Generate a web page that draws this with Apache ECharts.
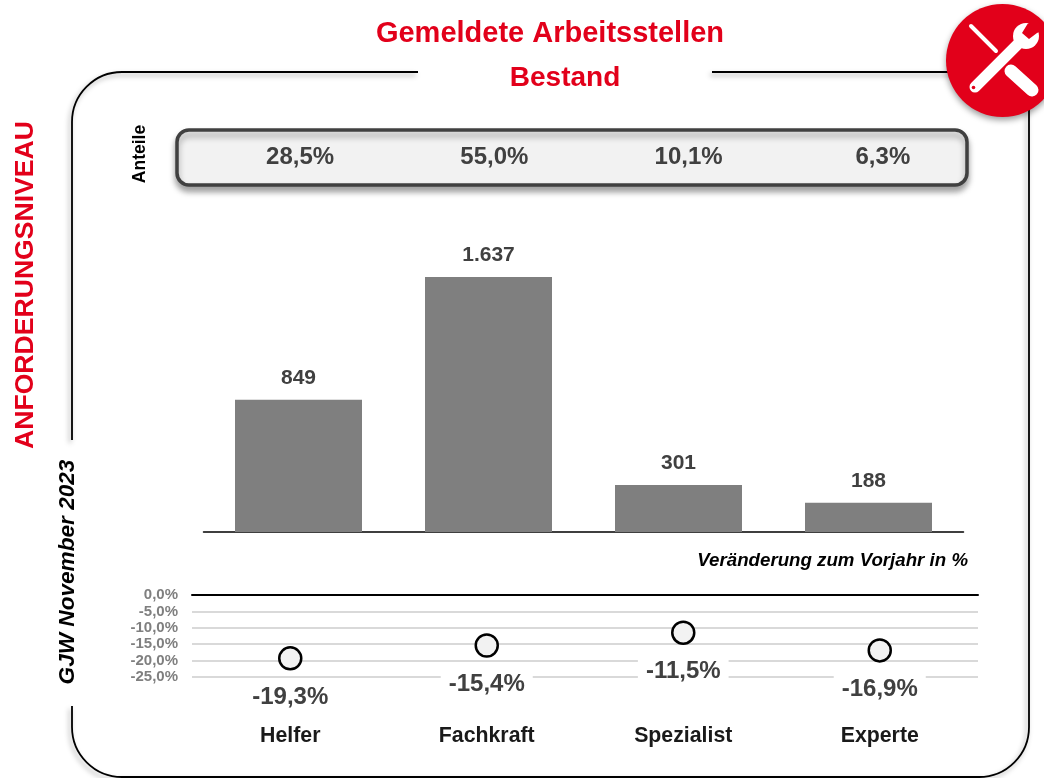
<!DOCTYPE html>
<html><head><meta charset="utf-8">
<style>html,body{margin:0;padding:0;background:#fff}#c{width:1044px;height:778px}</style>
<script src="https://cdn.jsdelivr.net/npm/echarts@6/dist/echarts.min.js"></script>
</head><body><div id="c"></div>
<script>
const categories = ['Helfer','Fachkraft','Spezialist','Experte'];
const stockValues = [849,1637,301,188];
const changeValues = [-19.3,-15.4,-11.5,-16.9];
const shareValues = [28.5,55.0,10.1,6.3];
const titleMain = 'Gemeldete Arbeitsstellen';
const titleSub = 'Bestand';

const FONT = '"Liberation Sans", Arial, sans-serif';
const RED = '#e2001a';
const pct = v => v.toFixed(1).replace('.', ',') + '%';
const thousands = v => String(v).replace(/\B(?=(\d{3})+$)/g, '.');
const txt = (text, x, y, size, color, extra) => ({
  type:'text', x, y, z:5, rotation:(extra&&extra.rotation)||0,
  style:{text, fill:color, font:`${(extra&&extra.italic)?'italic ':''}bold ${size}px ${FONT}`,
         align:(extra&&extra.align)||'center', verticalAlign:'middle'}
});
const wl = (x1,y1,x2,y2,w) => ({type:'line',z:11,shape:{x1,y1,x2,y2},style:{stroke:'#fff',lineWidth:w,lineCap:'round'}});

echarts.graphic.registerShape('frame', echarts.graphic.extendPath('M418,72 L122,72 A50,50 0 0 0 72,122 L72,440 M72,706 L72,727 A50,50 0 0 0 122,777 L979,777 A50,50 0 0 0 1029,727 L1029,105 M712,72 L960,72'));

const chart = echarts.init(document.getElementById('c'), null, {renderer:'canvas'});
chart.setOption({
  animation:false,
  backgroundColor:'#fff',
  textStyle:{fontFamily:FONT},
  title:[
    {text:titleMain,left:545,top:14,textAlign:'center',textStyle:{color:RED,fontSize:29,fontWeight:'bold',fontFamily:FONT}},
    {text:titleSub,left:560,top:59,textAlign:'center',textStyle:{color:RED,fontSize:28,fontWeight:'bold',fontFamily:FONT}}
  ],
  grid:[
    {left:203.5,width:760,top:251.6,height:280.4},
    {left:192,width:786,top:595,height:82},
    {left:203,width:777,top:130,height:55}
  ],
  xAxis:[
    {gridIndex:0,type:'category',data:categories,axisTick:{show:false},axisLabel:{show:false},
     axisLine:{lineStyle:{color:'#000',width:1.5}}},
    {gridIndex:1,type:'category',data:categories,position:'bottom',axisTick:{show:false},
     axisLine:{show:false,onZero:false},
     axisLabel:{margin:49,color:'#1a1a1a',fontSize:21.3,fontWeight:'bold',fontFamily:FONT}},
    {gridIndex:1,type:'category',data:categories,position:'top',axisTick:{show:false},axisLabel:{show:false},
     axisLine:{onZero:false,lineStyle:{color:'#000',width:2}}},
    {gridIndex:2,type:'category',data:shareValues.map(pct),axisTick:{show:false},axisLabel:{show:false},axisLine:{show:false}}
  ],
  yAxis:[
    {gridIndex:0,type:'value',min:0,max:1800,show:false},
    {gridIndex:1,type:'value',min:-25,max:0,interval:5,axisLine:{show:false},axisTick:{show:false},
     axisLabel:{margin:14,color:'#7f7f7f',fontSize:15,fontWeight:'bold',fontFamily:FONT,formatter:pct},
     splitLine:{lineStyle:{color:'#d9d9d9',width:2}}},
    {gridIndex:2,type:'value',min:-1,max:1,show:false}
  ],
  series:[
    {type:'bar',xAxisIndex:0,yAxisIndex:0,data:stockValues,barWidth:127,itemStyle:{color:'#7f7f7f'},
     label:{show:true,position:'top',distance:11,color:'#404040',fontSize:21,fontWeight:'bold',fontFamily:FONT,formatter:p=>thousands(p.value)}},
    {type:'scatter',xAxisIndex:1,yAxisIndex:1,data:changeValues,symbol:'circle',symbolSize:22,z:6,
     itemStyle:{color:'#f2f2f2',borderColor:'#000',borderWidth:2.5,opacity:1},
     label:{show:true,position:'bottom',distance:7.5,color:'#404040',fontSize:24,lineHeight:22,fontWeight:'bold',fontFamily:FONT,
            backgroundColor:'#fff',padding:[8,8,8,8],formatter:p=>pct(p.value)}},
    {type:'scatter',xAxisIndex:3,yAxisIndex:2,data:shareValues.map((v,i)=>[i,0,v]),symbolSize:0,z:6,
     itemStyle:{opacity:1},
     label:{show:true,position:'inside',color:'#404040',fontSize:24,fontWeight:'bold',fontFamily:FONT,formatter:p=>pct(p.value[2])}}
  ],
  graphic:[
    {type:'frame',z:0,shape:{},
     style:{fill:null,stroke:'#000',lineWidth:1.8,shadowColor:'rgba(0,0,0,0.35)',shadowBlur:5,shadowOffsetX:-2,shadowOffsetY:3}},
    {type:'rect',z:0,shape:{x:177,y:130,width:790,height:55,r:12},
     style:{fill:'#f2f2f2',stroke:'#404040',lineWidth:3.5,shadowColor:'rgba(0,0,0,0.35)',shadowBlur:6,shadowOffsetX:0,shadowOffsetY:5}},
    txt('ANFORDERUNGSNIVEAU',26,285,26.6,RED,{rotation:Math.PI/2}),
    txt('Anteile',140,154,17.5,'#000',{rotation:Math.PI/2}),
    txt('GJW November 2023',68,572,22.6,'#000',{rotation:Math.PI/2,italic:true}),
    txt('Veränderung zum Vorjahr in %',968,561,18.7,'#000',{align:'right',italic:true}),
    {type:'circle',z:10,shape:{cx:1002.5,cy:60.5,r:56.5},
     style:{fill:RED,shadowColor:'rgba(0,0,0,0.4)',shadowBlur:6,shadowOffsetX:0,shadowOffsetY:3}},
    wl(971,26,996,51,4),
    wl(1011,71,1032,90,13),
    wl(975,87,1020,42,11),
    {type:'circle',z:11,shape:{cx:1026,cy:36,r:13},style:{fill:'#fff'}},
    {type:'polygon',z:12,shape:{points:[[1027.5,24],[1036,18],[1044,30],[1037,33],[1029,39],[1022,33]]},style:{fill:RED}},
    {type:'circle',z:12,shape:{cx:973.5,cy:87.5,r:1.8},style:{fill:RED}}
  ]
});
</script></body></html>
